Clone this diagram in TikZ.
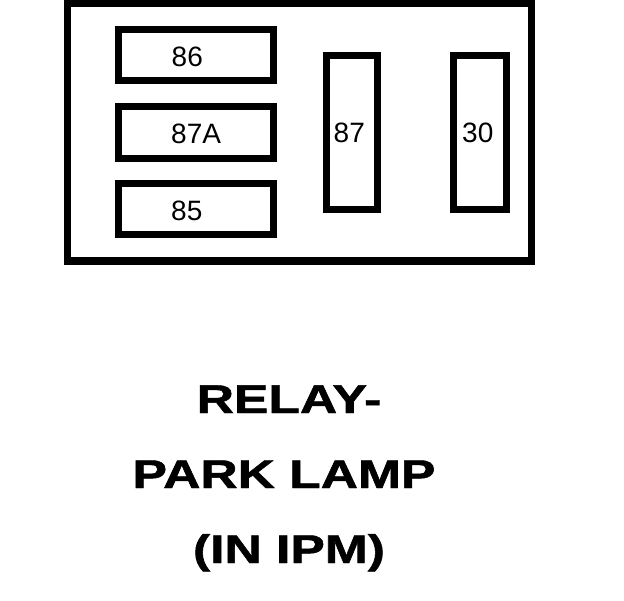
\documentclass[tikz,border=0pt]{standalone}
\usepackage{fontspec}
\setmainfont{Liberation Sans}
\newfontfamily\titlefont[FakeBold=1.2]{Liberation Sans Bold}
\begin{document}
\begin{tikzpicture}[x=1pt,y=-1pt,
  pinlabel/.style={inner sep=0pt,anchor=base west,font=\fontsize{28}{30}\selectfont},
  titletext/.style={inner sep=0pt,anchor=base,font=\titlefont\fontsize{40}{44}\selectfont}]
\useasboundingbox (0,0) rectangle (624,600);
% relay housing
\draw[line width=7.5pt] (67.5,3.5) rectangle (531.5,261);
% pin cavities
\draw[line width=7pt] (118.5,29.5) rectangle (273.5,80) node[pos=0.5] (p86) {};
\draw[line width=7pt] (118.5,106.5) rectangle (273.5,158) node[pos=0.5] (p87A) {};
\draw[line width=7pt] (118.5,183.5) rectangle (273.5,234.5) node[pos=0.5] (p85) {};
\draw[line width=7pt] (326,55.5) rectangle (377,209) node[pos=0.5] (p87) {};
\draw[line width=7pt] (453.7,55.5) rectangle (506,209) node[pos=0.5] (p30) {};
% labels
\node[pinlabel] (t86) at (171.5,66) {86};
\node[pinlabel] (t87A) at (171,143) {87A};
\node[pinlabel] (t85) at (171,220) {85};
\node[pinlabel] (t87) at (333.5,142) {87};
\node[pinlabel] (t30) at (462,142) {30};
% title
\node[titletext] (l1) at (289,413) {\scalebox{1.29}[1]{RELAY-}};
\node[titletext] (l2) at (284,488) {\scalebox{1.29}[1]{PARK LAMP}};
\node[titletext] (l3) at (289,563) {\scalebox{1.29}[1]{(IN IPM)}};
\end{tikzpicture}
\end{document}
